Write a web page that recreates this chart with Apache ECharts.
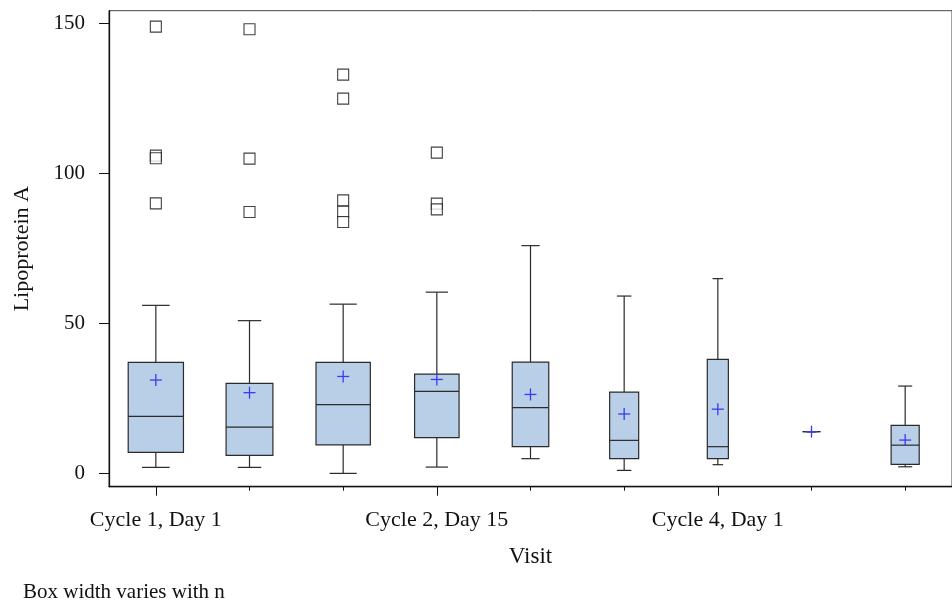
<!DOCTYPE html>
<html>
<head>
<meta charset="utf-8">
<script src="https://cdn.jsdelivr.net/npm/echarts@6/dist/echarts.min.js"></script>
<style>
  html, body { margin: 0; padding: 0; background: #fff; }
  #main { width: 952px; height: 607px; }
</style>
</head>
<body>
<div id="main"></div>
<script>
// visits on the x axis (only every third one is labelled)
var visits = ['Cycle 1, Day 1', 'Cycle 1, Day 15', 'Cycle 2, Day 1', 'Cycle 2, Day 15',
  'Cycle 3, Day 1', 'Cycle 3, Day 15', 'Cycle 4, Day 1', 'Cycle 4, Day 15', 'Cycle 5, Day 1'];

// box statistics
var whiskerLow  = [2.0, 2.0, 0.0, 2.1, 4.9, 1.0, 2.9, 13.9, 2.2];
var q1          = [7.0, 6.0, 9.5, 11.9, 8.9, 4.9, 4.9, 13.9, 3.0];
var median      = [19.0, 15.4, 22.9, 27.3, 21.9, 11.0, 8.9, 13.9, 9.4];
var q3          = [37.0, 30.0, 37.0, 33.1, 37.1, 27.1, 38.0, 13.9, 16.0];
var whiskerHigh = [56.0, 50.9, 56.4, 60.4, 75.9, 59.1, 64.9, 13.9, 29.1];
var means       = [31.1, 26.9, 32.3, 31.3, 26.3, 19.8, 21.4, 13.9, 11.1];

// outliers: [visit index, value]
var outliers = [
  [0, 148.9], [0, 105.9], [0, 105.0], [0, 90.0],
  [1, 148.0], [1, 104.9], [1, 87.1],
  [2, 132.9], [2, 124.9], [2, 91.0], [2, 87.2], [2, 83.8],
  [3, 106.9], [3, 89.9], [3, 88.0]
];

var yTicks = [0, 50, 100, 150];

// box width as a share of the category band (width varies with n)
var boxShare = [0.59, 0.50, 0.58, 0.475, 0.39, 0.31, 0.225, 0.19, 0.30];

var serif = 'Liberation Serif';
var lineCol = '#2b2b2b';

var boxData = visits.map(function (v, i) {
  return [i, whiskerLow[i], q1[i], median[i], q3[i], whiskerHigh[i], means[i]];
});

function renderBox(params, api) {
  var i = api.value(0);
  var cx = api.coord([i, 0])[0];
  var band = api.size([1, 0])[0];
  var w = band * boxShare[i];
  var cap = w / 2;
  var yLo = api.coord([i, api.value(1)])[1];
  var yQ1 = api.coord([i, api.value(2)])[1];
  var yMed = api.coord([i, api.value(3)])[1];
  var yQ3 = api.coord([i, api.value(4)])[1];
  var yHi = api.coord([i, api.value(5)])[1];
  var yMean = api.coord([i, api.value(6)])[1];
  var ls = { stroke: lineCol, lineWidth: 1.2 };
  var ms = { stroke: '#3a3af2', lineWidth: 1.3 };
  return {
    type: 'group',
    children: [
      { type: 'line', shape: { x1: cx, y1: yHi, x2: cx, y2: yQ3 }, style: ls },
      { type: 'line', shape: { x1: cx, y1: yQ1, x2: cx, y2: yLo }, style: ls },
      { type: 'line', shape: { x1: cx - cap / 2, y1: yHi, x2: cx + cap / 2, y2: yHi }, style: ls },
      { type: 'line', shape: { x1: cx - cap / 2, y1: yLo, x2: cx + cap / 2, y2: yLo }, style: ls },
      { type: 'rect', shape: { x: cx - w / 2, y: yQ3, width: w, height: yQ1 - yQ3 },
        style: { fill: '#b9cfe8', stroke: lineCol, lineWidth: 1.2 } },
      { type: 'line', shape: { x1: cx - w / 2, y1: yMed, x2: cx + w / 2, y2: yMed }, style: ls },
      { type: 'line', shape: { x1: cx - 6, y1: yMean, x2: cx + 6, y2: yMean }, style: ms },
      { type: 'line', shape: { x1: cx, y1: yMean - 6, x2: cx, y2: yMean + 6 }, style: ms }
    ]
  };
}

var chart = echarts.init(document.getElementById('main'));
chart.setOption({
  animation: false,
  backgroundColor: '#fff',
  textStyle: { fontFamily: serif },
  grid: {
    left: 109, top: 10.7, right: -9, bottom: 120.3,
    show: true, borderColor: '#444', borderWidth: 1
  },
  graphic: [{
    type: 'text', left: 23, top: 582,
    style: { text: 'Box width varies with n', font: '21px "Liberation Serif"', fill: '#111' }
  }],
  xAxis: [{
    type: 'category',
    data: visits,
    boundaryGap: true,
    name: 'Visit',
    nameLocation: 'middle',
    nameGap: 59,
    nameTextStyle: { fontFamily: serif, fontSize: 23, color: '#111' },
    axisLine: { show: true, onZero: false, lineStyle: { color: '#111', width: 1.3 } },
    axisTick: { show: true, alignWithLabel: true, interval: 2, length: 9, lineStyle: { color: '#111', width: 1 } },
    axisLabel: { interval: 2, margin: 23, fontFamily: serif, fontSize: 22, color: '#111' },
    splitLine: { show: false }
  }, {
    type: 'category',
    data: visits,
    boundaryGap: true,
    position: 'bottom',
    axisLine: { show: false, onZero: false },
    axisTick: { show: true, alignWithLabel: true, interval: 0, length: 4, lineStyle: { color: '#111', width: 1 } },
    axisLabel: { show: false },
    splitLine: { show: false }
  }],
  yAxis: {
    type: 'value',
    min: -4.44,
    max: 154.2,
    name: 'Lipoprotein A',
    nameLocation: 'middle',
    nameRotate: 90,
    nameGap: 76,
    nameTextStyle: { fontFamily: serif, fontSize: 22, color: '#111' },
    axisLine: { show: true, onZero: false, lineStyle: { color: '#111', width: 1.3 } },
    axisTick: { show: true, length: 10, customValues: yTicks, lineStyle: { color: '#111' } },
    axisLabel: { customValues: yTicks, margin: 24, fontFamily: serif, fontSize: 21, color: '#111' },
    splitLine: { show: false }
  },
  series: [{
    type: 'custom',
    xAxisIndex: 0,
    renderItem: renderBox,
    encode: { x: 0, y: [1, 2, 3, 4, 5, 6] },
    data: boxData,
    z: 2
  }, {
    type: 'scatter',
    xAxisIndex: 0,
    symbol: 'rect',
    symbolSize: 11,
    itemStyle: { color: '#fff', borderColor: '#111', borderWidth: 1.1 },
    data: outliers,
    z: 3
  }]
});
</script>
</body>
</html>
